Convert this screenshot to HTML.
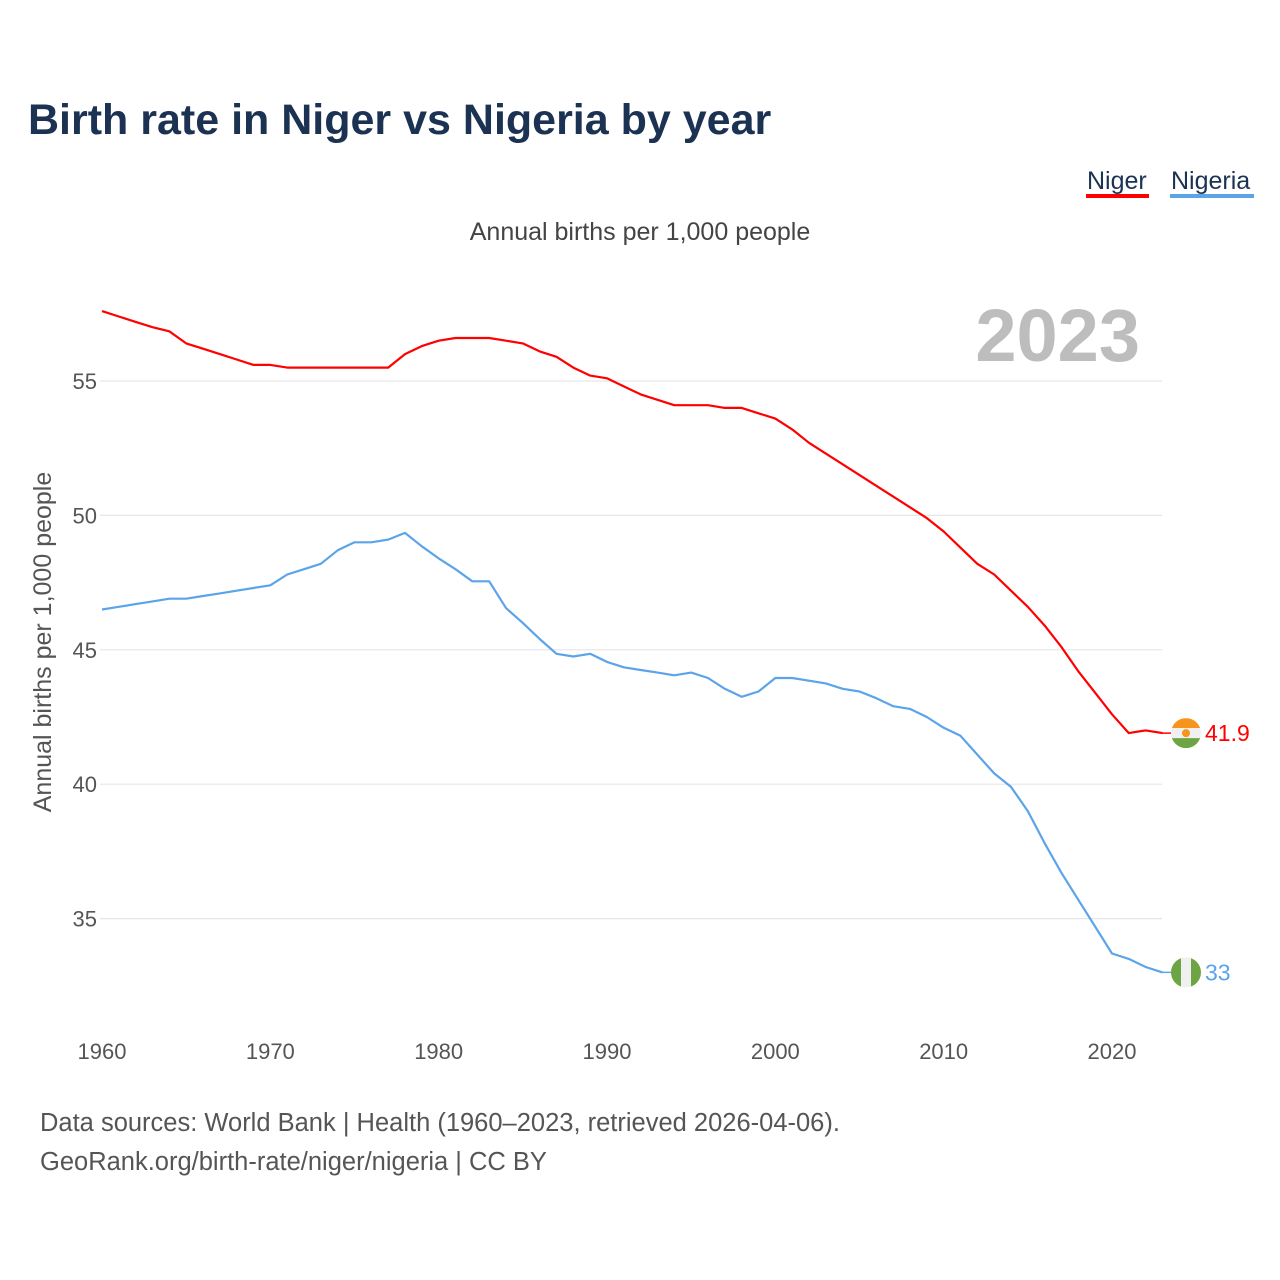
<!DOCTYPE html>
<html><head><meta charset="utf-8">
<style>
body{margin:0;background:#fff;}
svg{display:block;font-family:"Liberation Sans",sans-serif;}
</style></head>
<body>
<svg id="chart" width="1280" height="1280" viewBox="0 0 1280 1280">
<text x="28" y="134" font-size="43" font-weight="bold" fill="#1b3253">Birth rate in Niger vs Nigeria by year</text>
<g>
<text x="1087" y="189" font-size="25" fill="#1b3253">Niger</text>
<rect x="1086" y="194" width="63" height="4" fill="#ff0000"/>
<text x="1171" y="189" font-size="25" fill="#1b3253">Nigeria</text>
<rect x="1170" y="194" width="84" height="4" fill="#5ba4ea"/>
</g>
<text x="640" y="240" font-size="25" fill="#444" text-anchor="middle">Annual births per 1,000 people</text>
<text x="1140" y="361" font-size="74" font-weight="bold" fill="#bdbdbd" text-anchor="end">2023</text>
<text transform="translate(51,642) rotate(-90)" font-size="25" fill="#555" text-anchor="middle">Annual births per 1,000 people</text>
<g id="grid"></g><g id="lines"></g><g id="ends"></g>
<text x="40" y="1131" font-size="25.5" fill="#555">Data sources: World Bank | Health (1960–2023, retrieved 2026-04-06).</text>
<text x="40" y="1170" font-size="25.5" fill="#555">GeoRank.org/birth-rate/niger/nigeria | CC BY</text>
</svg>
<script>
const years=[];for(let y=1960;y<=2023;y++)years.push(y);
const niger=[57.6,57.4,57.2,57.0,56.85,56.4,56.2,56.0,55.8,55.6,55.6,55.5,55.5,55.5,55.5,55.5,55.5,55.5,56.0,56.3,56.5,56.6,56.6,56.6,56.5,56.4,56.1,55.9,55.5,55.2,55.1,54.8,54.5,54.3,54.1,54.1,54.1,54.0,54.0,53.8,53.6,53.2,52.7,52.3,51.9,51.5,51.1,50.7,50.3,49.9,49.4,48.8,48.2,47.8,47.2,46.6,45.9,45.1,44.2,43.4,42.6,41.9,42.0,41.9];
const nigeria=[46.5,46.6,46.7,46.8,46.9,46.9,47.0,47.1,47.2,47.3,47.4,47.8,48.0,48.2,48.7,49.0,49.0,49.1,49.35,48.85,48.4,48.0,47.55,47.55,46.55,46.0,45.4,44.85,44.75,44.85,44.55,44.35,44.25,44.15,44.05,44.15,43.95,43.55,43.25,43.45,43.95,43.95,43.85,43.75,43.55,43.45,43.2,42.9,42.8,42.5,42.1,41.8,41.1,40.4,39.9,39.0,37.8,36.7,35.7,34.7,33.7,33.5,33.2,33.0];
const yTicks=[35,40,45,50,55];
const xTicks=[1960,1970,1980,1990,2000,2010,2020];
const endLabels=["41.9","33"];
const NS="http://www.w3.org/2000/svg";
const xs=y=>102+(y-1960)*(1010/60);
const ys=v=>381+(55-v)*26.88;
function mk(t,a,p){const e=document.createElementNS(NS,t);for(const k in a)e.setAttribute(k,a[k]);p.appendChild(e);return e;}
const grid=document.getElementById('grid'),lines=document.getElementById('lines'),ends=document.getElementById('ends');
yTicks.forEach(v=>{
 const l=mk('line',{x1:100,x2:1162,y1:ys(v),y2:ys(v),stroke:'#e6e6e6','stroke-width':1.2},grid);
 
 
 const t=mk('text',{x:97,y:ys(v)+8,'font-size':22,fill:'#555','text-anchor':'end'},grid);t.textContent=v;
 
 
});
xTicks.forEach(v=>{
 const t=mk('text',{x:xs(v),y:1059,'font-size':22,fill:'#555','text-anchor':'middle'},grid);t.textContent=v;
 
 
});
function line(data,col,name){
 const d=data.map((v,i)=>(i?'L':'M')+xs(years[i]).toFixed(1)+','+ys(v).toFixed(1)).join('');
 const p=mk('path',{d:d,fill:'none',stroke:col,'stroke-width':2.2,'stroke-linejoin':'round'},lines);
 
 
}
line(niger,'#ff0000','line-niger');
line(nigeria,'#5ba4ea','line-nigeria');
function flag(v,kind,label,col,name){
 const cy=ys(v),cx=1186,x0=xs(2023);
 mk('line',{x1:x0,x2:cx-15,y1:cy,y2:cy,stroke:col,'stroke-width':1.5},ends);
 const g=mk('g',{},ends);
 
 
 const id='c'+name;
 const cp=mk('clipPath',{id:id},g);mk('circle',{cx:cx,cy:cy,r:15},cp);
 const gg=mk('g',{'clip-path':'url(#'+id+')'},g);
 if(kind==='ne'){
  mk('rect',{x:cx-15,y:cy-15,width:30,height:10,fill:'#f7941d'},gg);
  mk('rect',{x:cx-15,y:cy-5,width:30,height:10,fill:'#f0f0f0'},gg);
  mk('rect',{x:cx-15,y:cy+5,width:30,height:10,fill:'#6da544'},gg);
  mk('circle',{cx:cx,cy:cy,r:4,fill:'#f7941d'},gg);
 }else{
  mk('rect',{x:cx-15,y:cy-15,width:10,height:30,fill:'#6da544'},gg);
  mk('rect',{x:cx-5,y:cy-15,width:10,height:30,fill:'#f0f0f0'},gg);
  mk('rect',{x:cx+5,y:cy-15,width:10,height:30,fill:'#6da544'},gg);
 }
 const t=mk('text',{x:1205,y:cy+8,'font-size':23,fill:col},ends);t.textContent=label;
 
 
}
flag(niger[niger.length-1],'ne',endLabels[0],'#ff0000','niger');
flag(nigeria[nigeria.length-1],'ng',endLabels[1],'#5ba4ea','nigeria');
</script>
</body></html>
